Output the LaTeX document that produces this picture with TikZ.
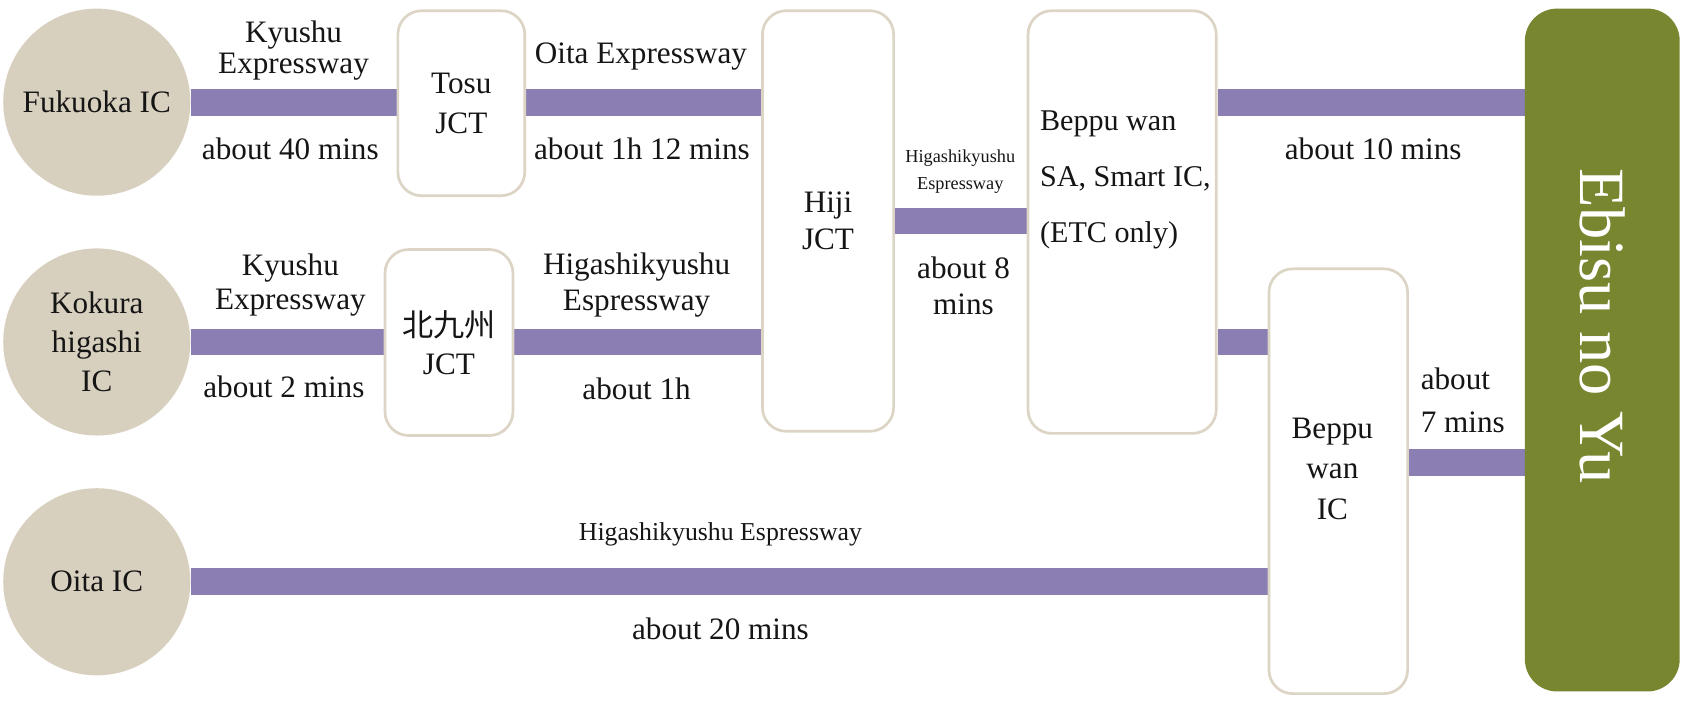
\documentclass[tikz,border=0pt]{standalone}
\usepackage{fontspec}
\setmainfont{Liberation Serif}
\newfontfamily\cjkfont{Noto Sans CJK JP}
\usetikzlibrary{backgrounds}
\definecolor{barpurple}{HTML}{8A7EB2}
\definecolor{icbeige}{HTML}{D8D0BF}
\definecolor{boxline}{HTML}{DCD5C6}
\definecolor{ebgreen}{HTML}{77862F}
\definecolor{ink}{HTML}{151515}
\begin{document}
\begin{tikzpicture}[x=1pt,y=-1pt,
  txt/.style={font=\fontsize{29}{35}\selectfont, align=center, inner sep=0pt, text=ink},
  smalltxt/.style={txt, font=\fontsize{17}{25}\selectfont},
  icnode/.style={circle, fill=icbeige, minimum size=174pt, inner sep=0pt, txt},
  jbox/.style={draw=boxline, line width=2.5pt, fill=white, rounded corners=22pt, inner sep=0pt, txt},
  road/.style={draw=barpurple, line width=25pt},
]
\useasboundingbox (0,0) rectangle (1566,651);

% interchanges
\node[icnode] (fuk) at (90,95) {Fukuoka IC};
\node[icnode, font=\fontsize{29}{36}\selectfont] (kok) at (90,318) {Kokura\\higashi\\IC};
\node[icnode] (oita) at (90,541) {Oita IC};

% junction boxes
\node[jbox, minimum width=118pt, minimum height=172pt, font=\fontsize{29}{37}\selectfont] (tosu) at (429,96) {Tosu\\JCT};
\node[jbox, minimum width=119pt, minimum height=173pt] (kita) at (417.5,318.5) {{\cjkfont 北九州}\\JCT};
\node[jbox, minimum width=122pt, minimum height=391pt] (hiji) at (770,205.5) {Hiji\\JCT};
\node[jbox, minimum width=175pt, minimum height=393pt] (sa) at (1043.5,206.5) {};
\node[txt, align=left, anchor=west, font=\fontsize{28}{52}\selectfont] (satxt) at (967,167) {Beppu wan\\SA, Smart IC,\\(ETC only)};
\node[jbox, minimum width=129pt, minimum height=395pt] (bic) at (1244.5,447.5) {};
\node[txt, font=\fontsize{29}{38}\selectfont] (bictxt) at (1239,436) {Beppu\\wan\\IC};

% destination
\node[fill=ebgreen, rounded corners=30pt, minimum width=144pt, minimum height=635pt, inner sep=0pt] (ebisu) at (1490,325.5) {};
\node[rotate=-90, text=white, font=\fontsize{60}{60}\selectfont, inner sep=0pt] (ebtxt) at (1490,303) {Ebisu no Yu};

\coordinate (r7) at (0,430);

% roads
\begin{scope}[on background layer]
\draw[road] (fuk.east) -- (tosu.west |- fuk.east);
\draw[road] (tosu.east |- fuk.east) -- (hiji.west |- fuk.east);
\draw[road] (kok.east) -- (kita.west |- kok.east);
\draw[road] (kita.east |- kok.east) -- (hiji.west |- kok.east);
\draw[road] (hiji.east) -- (sa.west |- hiji.east);
\draw[road] (sa.east |- fuk.east) -- (ebisu.west |- fuk.east);
\draw[road] (sa.east |- kok.east) -- (bic.west |- kok.east);
\draw[road] (bic.east |- r7) -- (ebisu.west |- r7);
\draw[road] (oita.east) -- (bic.west |- oita.east);
\end{scope}

% road labels
\node[txt, font=\fontsize{29}{29}\selectfont] (l1) at (273,47) {Kyushu\\Expressway};
\node[txt] (l2) at (270,138) {about 40 mins};
\node[txt] (l3) at (596,53) {Oita Expressway};
\node[txt] (l4) at (597,138) {about 1h 12 mins};
\node[smalltxt] (l5) at (893,160) {Higashikyushu\\Espressway};
\node[txt, font=\fontsize{29}{33}\selectfont] (l6) at (896,266) {about 8\\mins};
\node[txt] (l7) at (1277,138) {about 10 mins};
\node[txt, font=\fontsize{29}{32}\selectfont] (l8) at (270,265) {Kyushu\\Expressway};
\node[txt] (l9) at (264,360) {about 2 mins};
\node[txt, font=\fontsize{29}{33}\selectfont] (l10) at (592,265) {Higashikyushu\\Espressway};
\node[txt] (l11) at (592,362) {about 1h};
\node[txt, align=left, anchor=west, font=\fontsize{29}{40}\selectfont] (l12) at (1321,372) {about\\7 mins};
\node[txt, font=\fontsize{24}{28}\selectfont] (l13) at (670,497) {Higashikyushu Espressway};
\node[txt] (l14) at (670,585) {about 20 mins};
\end{tikzpicture}
\end{document}
